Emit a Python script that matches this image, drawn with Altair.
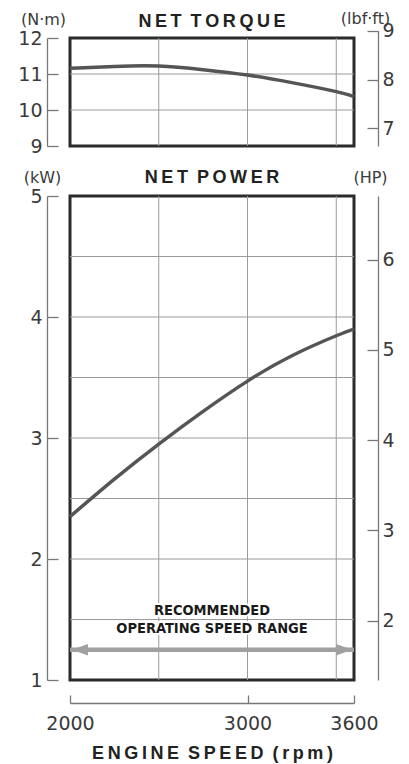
import altair as alt
import pandas as pd

# ---------------- data ----------------
rpm = [2000, 2250, 2500, 2750, 3000, 3250, 3500, 3600]
torque_nm = [11.16, 11.21, 11.22, 11.12, 10.97, 10.76, 10.51, 10.37]
power_kw = [2.35, 2.66, 2.95, 3.22, 3.47, 3.68, 3.845, 3.9]

nm_ticks = [9, 10, 11, 12]
lbf_ticks = [7, 8, 9]
kw_ticks = [1, 2, 3, 4, 5]
hp_ticks = [2, 3, 4, 5, 6]
rpm_labels = [2000, 3000, 3600]
rpm_grid = [2500, 3000, 3500]
nm_grid = [10, 11]
kw_grid = [1.5, 2, 2.5, 3, 3.5, 4, 4.5]
range_rpm = [2000, 3600]
range_kw = [1.25, 1.25]
note_lines = ["RECOMMENDED", "OPERATING SPEED RANGE"]
note_kw = [1.57, 1.42]
note_rpm = [2800, 2800]

NM_TO_LBF = 0.737562
KW_TO_HP = 1.341022

# ---------------- styling ----------------
FONT = "Liberation Sans"
NUM_FONT = "DejaVu Sans"
NOTE_FONT = "Liberation Sans Narrow, DejaVu Sans Condensed, Roboto Condensed, Liberation Sans"
AX = "#777777"
TXT = "#3a3a3a"
GRID = "#9a9a9a"
CURVE = "#555555"
W = 284
H_T = 108
H_P = 484


def spaced(s):
    return "\u2002".join("\u2009".join(w) for w in s.split(" "))


df_t = pd.DataFrame({"rpm": rpm, "nm": torque_nm})
df_t["lbf"] = df_t["nm"] * NM_TO_LBF
df_p = pd.DataFrame({"rpm": rpm, "kw": power_kw})
df_p["hp"] = df_p["kw"] * KW_TO_HP

xs = alt.Scale(domain=[2000, 3600], nice=False, zero=False)
ys_nm = alt.Scale(domain=[9, 12], nice=False, zero=False)
lbf_lo, lbf_hi, lbf_top = 9 * NM_TO_LBF, 12 * NM_TO_LBF, max(lbf_ticks)
ys_lbf = alt.Scale(domain=[lbf_lo, lbf_top], nice=False, zero=False,
                   range=[H_T, H_T - (lbf_top - lbf_lo) / (lbf_hi - lbf_lo) * H_T])
ys_kw = alt.Scale(domain=[1, 5], nice=False, zero=False)
ys_hp = alt.Scale(domain=[1 * KW_TO_HP, 5 * KW_TO_HP], nice=False, zero=False)


def y_axis(orient, values, title, tx, ty, pad):
    # axis line set off from the frame, ticks pointing back towards the frame
    return alt.Axis(orient=orient, offset=23 if orient == "left" else 24, values=values,
                    domain=True, domainColor=AX, domainWidth=1.3,
                    ticks=True, tickSize=alt.ExprRef(expr="-11"), tickColor=AX, tickWidth=1.3,
                    labels=True, labelFont=NUM_FONT, labelFontSize=19, labelColor=TXT,
                    labelPadding=pad, labelOverlap=False, labelFlush=False, grid=False,
                    format="d",
                    title=title, titleAngle=0, titleX=tx, titleY=ty,
                    titleAlign="center", titleBaseline="middle", titleFont=NUM_FONT,
                    titleFontSize=16, titleFontWeight="normal", titleColor=TXT)


x_axis = alt.Axis(
    orient="bottom", offset=23, values=rpm_labels, domain=True, domainColor=AX,
    domainWidth=1.3, ticks=True, tickSize=alt.ExprRef(expr="-8"), tickColor=AX,
    tickWidth=1.3, labels=True, labelFont=NUM_FONT, labelFontSize=19, labelColor=TXT,
    labelPadding=19, labelFlush=False, labelOverlap=False, grid=False, format="d",
    title=spaced("ENGINE SPEED (rpm)"), titleFont=FONT, titleFontSize=18,
    titleFontWeight="bold", titleColor="#222222",
    titleX=W / 2, titleY=50, titleAlign="center", titleBaseline="middle")


def hgrid(vals, scale):
    d = pd.DataFrame({"v": vals})
    return alt.Chart(d).mark_rule(color=GRID, strokeWidth=1).encode(
        y=alt.Y("v:Q", scale=scale, axis=None))


def vgrid(xaxis=None):
    d = pd.DataFrame({"r": rpm_grid})
    return alt.Chart(d).mark_rule(color=GRID, strokeWidth=1).encode(
        x=alt.X("r:Q", scale=xs, axis=xaxis))


def panel_title(text, off, dy):
    return alt.TitleParams(text=spaced(text), anchor="middle", offset=off, dy=dy,
                           baseline="middle", font=FONT, fontSize=18,
                           fontWeight="bold", color="#222222")


# ---------------- torque panel ----------------
torque_line = alt.Chart(df_t).mark_line(color=CURVE, strokeWidth=3.5,
                                         interpolate="natural").encode(
    x=alt.X("rpm:Q", scale=xs, axis=None),
    y=alt.Y("nm:Q", scale=ys_nm, axis=y_axis("left", nm_ticks, "(N·m)", -4, -19, 16)))
torque_right = alt.Chart(df_t).mark_line(opacity=0).encode(
    x=alt.X("rpm:Q", scale=xs, axis=None),
    y=alt.Y("lbf:Q", scale=ys_lbf, axis=y_axis("right", lbf_ticks, "(lbf·ft)", -13, -20, 15)))

torque = alt.layer(
    vgrid(), hgrid(nm_grid, ys_nm), torque_line, torque_right,
).resolve_scale(y="independent").properties(
    width=W, height=H_T, title=panel_title("NET TORQUE", 17, 47))

# ---------------- power panel ----------------
power_line = alt.Chart(df_p).mark_line(color=CURVE, strokeWidth=3.5,
                                        interpolate="natural").encode(
    x=alt.X("rpm:Q", scale=xs, axis=x_axis),
    y=alt.Y("kw:Q", scale=ys_kw, axis=y_axis("left", kw_ticks, "(kW)", -5, -19, 16)))
power_right = alt.Chart(df_p).mark_line(opacity=0).encode(
    x=alt.X("rpm:Q", scale=xs, axis=x_axis),
    y=alt.Y("hp:Q", scale=ys_hp, axis=y_axis("right", hp_ticks, "(HP)", -8, -19, 15)))

df_arrow = pd.DataFrame({"r": range_rpm, "kw": range_kw})
arrow_shaft = alt.Chart(df_arrow).mark_line(color="#a0a0a0", strokeWidth=4.5).encode(
    x=alt.X("r:Q", scale=xs, axis=x_axis),
    y=alt.Y("kw:Q", scale=ys_kw, axis=None))
head_l = alt.Chart(df_arrow.iloc[[0]]).mark_point(
    shape="M0.12,0L1.12,-0.36L1.12,0.36Z", size=1024, filled=True,
    color="#a0a0a0", opacity=1).encode(
    x=alt.X("r:Q", scale=xs, axis=x_axis),
    y=alt.Y("kw:Q", scale=ys_kw, axis=None))
head_r = alt.Chart(df_arrow.iloc[[1]]).mark_point(
    shape="M-0.12,0L-1.12,-0.36L-1.12,0.36Z", size=1024, filled=True,
    color="#a0a0a0", opacity=1).encode(
    x=alt.X("r:Q", scale=xs, axis=x_axis),
    y=alt.Y("kw:Q", scale=ys_kw, axis=None))

df_note = pd.DataFrame({"r": note_rpm, "kw": note_kw, "t": note_lines})
note_halo = alt.Chart(df_note).mark_text(
    font=NOTE_FONT, fontSize=14.5, fontWeight="bold", stroke="white", strokeWidth=4,
    color="white", baseline="middle").encode(
    x=alt.X("r:Q", scale=xs, axis=x_axis),
    y=alt.Y("kw:Q", scale=ys_kw, axis=None), text="t:N")
note = alt.Chart(df_note).mark_text(
    font=NOTE_FONT, fontSize=14.5, fontWeight="bold", color="#1a1a1a",
    baseline="middle").encode(
    x=alt.X("r:Q", scale=xs, axis=x_axis),
    y=alt.Y("kw:Q", scale=ys_kw, axis=None), text="t:N")

power = alt.layer(
    vgrid(x_axis), hgrid(kw_grid, ys_kw), arrow_shaft, head_l, head_r, note_halo, note,
    power_line, power_right,
).resolve_scale(y="independent").properties(
    width=W, height=H_P, title=panel_title("NET POWER", 19, 46))

chart = alt.vconcat(torque, power, spacing=9).resolve_scale(x="independent").properties(
    padding={"left": 8, "top": 0, "right": 0, "bottom": 0}
).configure_view(stroke="#2b2b2b", strokeWidth=3)

chart.save("out.html", embed_options={"renderer": "svg", "actions": False})
